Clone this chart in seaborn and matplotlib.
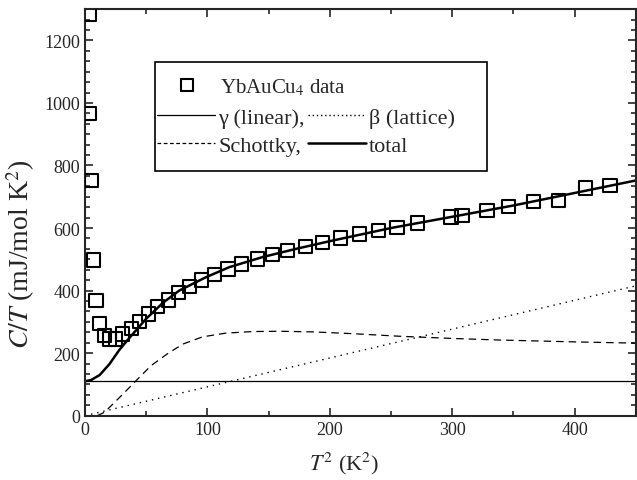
import numpy as np
import pandas as pd
import seaborn as sns
import matplotlib
matplotlib.use("Agg")
import matplotlib.pyplot as plt
from matplotlib.lines import Line2D
from matplotlib.patches import Rectangle
from matplotlib.ticker import MultipleLocator, AutoMinorLocator

# measured C/T of YbAuCu4
data_t2 = [3.3, 4, 5, 6.7, 9, 12.2, 16, 20, 25, 30.7, 38, 44.8, 52, 59, 68, 76.6,
           85.6, 95.5, 106, 116.8, 128, 140.7, 153, 165.5, 180, 194, 209, 224, 240,
           255, 271.5, 299, 308, 328.5, 346, 366.7, 387, 409, 429]
data_ct = [1282, 965, 751, 498, 367, 296, 256, 245, 245, 261, 280, 301, 325, 350, 370, 393,
           414, 434, 451, 469, 485, 501, 515, 528, 541, 554, 568, 581, 592,
           603, 616, 635, 640, 656, 669, 684, 688, 728, 737]

# fit components
gamma_t2 = [0, 450]
gamma_ct = [110, 110]
beta_t2 = [0, 450]
beta_ct = [0, 415]
schottky_t2 = [10, 16, 31, 43, 54, 67, 80, 96, 115, 137, 159, 186, 220, 257, 300, 338, 400, 450]
schottky_ct = [0, 11, 69, 117, 160, 197, 229, 252, 264, 269, 270, 268, 262, 254, 247, 242, 236, 232]
total_t2 = [0, 5, 12, 20, 28, 37, 50, 64, 77, 99, 118, 145, 172, 200, 250, 300, 350, 400, 450]
total_ct = [110, 114, 130, 165, 210, 252, 310, 362, 400, 443, 475, 507, 533, 558, 600, 636, 672, 712, 752]

sns.set_style("ticks")
plt.rcParams['font.family'] = ['Liberation Serif', 'DejaVu Serif']
plt.rcParams['mathtext.fontset'] = 'stix'

fig = plt.figure(figsize=(6.37, 4.81), dpi=100)
ax = fig.add_axes([0.1334, 0.1337, 0.8646, 0.8453])

sns.lineplot(x=gamma_t2, y=gamma_ct, ax=ax, color='black', lw=0.9)
sns.lineplot(x=beta_t2, y=beta_ct, ax=ax, color='black', lw=1.0, linestyle=(0, (1, 3.5)))
sns.lineplot(x=schottky_t2, y=schottky_ct, ax=ax, color='black', lw=0.9, linestyle=(0, (6, 4)))
sns.lineplot(x=total_t2, y=total_ct, ax=ax, color='black', lw=1.8)
sns.scatterplot(x=data_t2, y=data_ct, ax=ax, marker='s', s=90, facecolor='none',
                edgecolor='black', linewidth=1.5, zorder=5)

ax.set_xlim(0, 450)
ax.set_ylim(0, 1300)
ax.xaxis.set_major_locator(MultipleLocator(100))
ax.xaxis.set_minor_locator(MultipleLocator(50))
ax.yaxis.set_major_locator(MultipleLocator(200))
ax.yaxis.set_minor_locator(AutoMinorLocator(6))
ax.tick_params(which='both', direction='in', top=True, right=True, labelsize=13, width=1.2)
ax.tick_params(which='major', length=6)
ax.tick_params(which='minor', length=3.5)
for sp in ax.spines.values():
    sp.set_linewidth(1.5)

ax.set_xlabel(r"$T^2$ (K$^2$)", fontsize=16, labelpad=10)
ax.xaxis.set_label_coords(0.47, -0.085)
ax.set_ylabel(r"$C/T$ (mJ/mol K$^2$)", fontsize=20)
ax.yaxis.set_label_coords(-0.088, 0.40)

# legend: frame + data row + two rows of fit parts
ax.add_patch(Rectangle((0.127, 0.602), 0.603, 0.268, transform=ax.transAxes,
                       fill=False, edgecolor='black', lw=1.2, zorder=6))
h_data = [Line2D([], [], marker='s', ls='none', mfc='none', mec='black', ms=9, mew=1.5)]
leg1 = ax.legend(h_data, [r"YbAuCu$_4$ data"], loc='center left', bbox_to_anchor=(0.147, 0.808),
                 fontsize=15, frameon=False, handlelength=2.0, handletextpad=0.6,
                 borderpad=0, borderaxespad=0)
ax.add_artist(leg1)
h_fit = [
    Line2D([], [], color='black', lw=0.9),
    Line2D([], [], color='black', lw=0.9, ls=(0, (3, 2))),
    Line2D([], [], color='black', lw=1.0, ls=(0, (1, 2))),
    Line2D([], [], color='black', lw=1.8),
]
l_fit = ["γ (linear),", "Schottky,", "β (lattice)", "total"]
ax.legend(h_fit, l_fit, ncol=2, loc='center left', bbox_to_anchor=(0.1307, 0.699),
          fontsize=16, frameon=False, handlelength=2.6, handletextpad=0.15,
          columnspacing=0.15, labelspacing=0.35, borderpad=0, borderaxespad=0)

fig.savefig("out.png", dpi=100)
